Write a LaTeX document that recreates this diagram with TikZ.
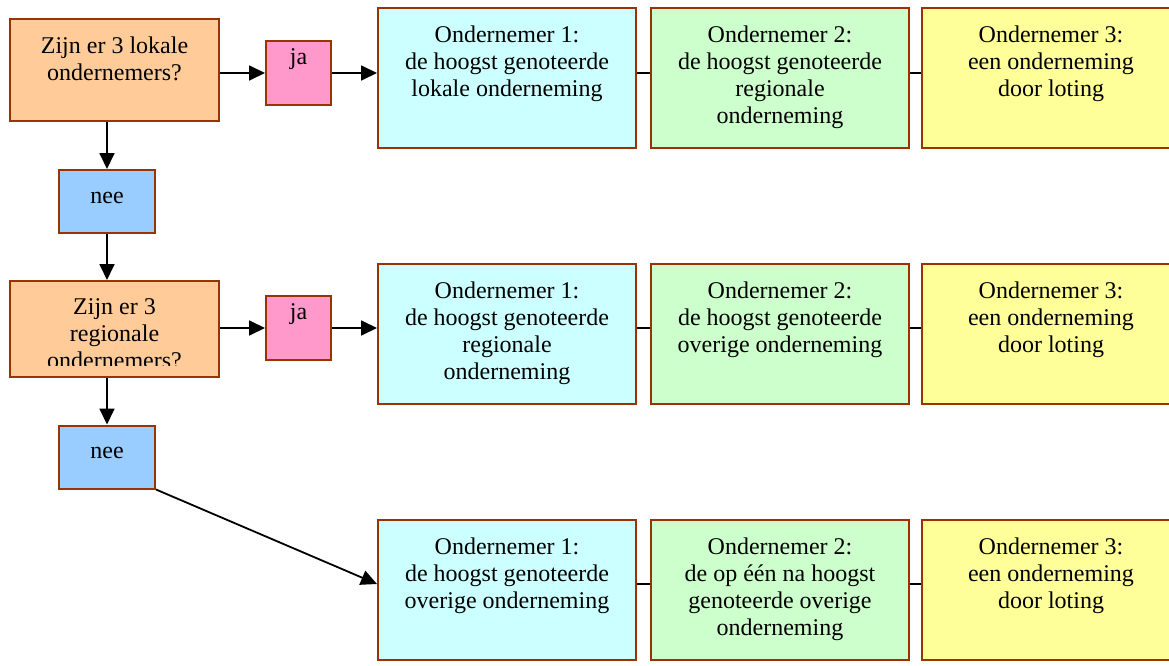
\documentclass[tikz,border=0pt]{standalone}
\usepackage{fontspec}
\setmainfont{Liberation Serif}
\usetikzlibrary{arrows.meta}
\definecolor{askfill}{HTML}{FFCC99}
\definecolor{jafill}{HTML}{FF99CC}
\definecolor{neefill}{HTML}{99CCFF}
\definecolor{firstfill}{HTML}{CCFFFF}
\definecolor{secondfill}{HTML}{CCFFCC}
\definecolor{thirdfill}{HTML}{FFFF99}
\definecolor{edge}{HTML}{993300}
\newcommand{\boxlines}[4]{\parbox[c][#2][t]{#1}{\centering\rule{0pt}{#3}#4}}
\newcommand{\pick}[1]{\boxlines{129pt}{70pt}{17pt}{#1}}
\tikzset{
	box/.style={draw=edge, line width=1pt, inner sep=0pt, font=\fontsize{12}{13.5}\selectfont},
	ask/.style={box, fill=askfill},
	yes/.style={box, fill=jafill},
	no/.style={box, fill=neefill},
	first/.style={box, fill=firstfill},
	second/.style={box, fill=secondfill},
	third/.style={box, fill=thirdfill},
	arrow/.style={line width=0.9pt, -{Triangle[length=8pt,width=7.5pt]}},
	link/.style={line width=0.9pt}
}
\begin{document}
\begin{tikzpicture}[x=0.5pt, y=-0.5pt]
				\useasboundingbox (0,0) rectangle (1169,665);
				\clip (0,0) rectangle (1169,665);
				\node[ask] (q1) at (114.5,70) {\boxlines{104.5pt}{51pt}{17pt}{Zijn er 3 lokale\\ondernemers?}};
				\node[yes] (ja1) at (298.5,73) {\boxlines{32.5pt}{32pt}{11.5pt}{ja}};
				\node[no] (nee1) at (107,201.5) {\boxlines{48pt}{31.5pt}{16.5pt}{nee}};
				\node[first] (first1) at (507,78) {\pick{Ondernemer 1:\\de hoogst genoteerde\\lokale onderneming}};
				\node[second] (second1) at (780,78) {\pick{Ondernemer 2:\\de hoogst genoteerde\\regionale\\onderneming}};
				\node[third] (third1) at (1051,78) {\pick{Ondernemer 3:\\een onderneming\\door loting}};
				\node[ask] (q2) at (114.5,329) {\boxlines{104.5pt}{48pt}{16pt}{}};
				\begin{scope}
					\clip ([yshift=6.5pt]q2.south west) rectangle (q2.north east);
					\node[inner sep=0pt, font=\fontsize{12}{13.5}\selectfont] (q2text) at (q2) {\boxlines{104.5pt}{48pt}{16.5pt}{Zijn er 3\\regionale\\ondernemers?}};
				\end{scope}
				\node[yes] (ja2) at (298.5,328) {\boxlines{32.5pt}{32pt}{11.5pt}{ja}};
				\node[no] (nee2) at (107,457) {\boxlines{48pt}{31.5pt}{16.5pt}{nee}};
				\node[first] (first2) at (507,334) {\pick{Ondernemer 1:\\de hoogst genoteerde\\regionale\\onderneming}};
				\node[second] (second2) at (780,334) {\pick{Ondernemer 2:\\de hoogst genoteerde\\overige onderneming}};
				\node[third] (third2) at (1051,334) {\pick{Ondernemer 3:\\een onderneming\\door loting}};
				\node[first] (first3) at (507,590) {\pick{Ondernemer 1:\\de hoogst genoteerde\\overige onderneming}};
				\node[second] (second3) at (780,590) {\pick{Ondernemer 2:\\de op één na hoogst\\genoteerde overige\\onderneming}};
				\node[third] (third3) at (1051,590) {\pick{Ondernemer 3:\\een onderneming\\door loting}};
				\draw[arrow] (q1.east |- ja1) -- (ja1.west);
				\draw[arrow] (ja1.east) -- (ja1 -| first1.west);
				\draw[link] (first1.east |- ja1) -- (second1.west |- ja1);
				\draw[link] (second1.east |- ja1) -- (third1.west |- ja1);
				\draw[arrow] (q1.south -| nee1) -- (nee1.north);
				\draw[arrow] (nee1.south) -- (q2.north -| nee1);
				\draw[arrow] (q2.east |- ja2) -- (ja2.west);
				\draw[arrow] (ja2.east) -- (ja2 -| first2.west);
				\draw[link] (first2.east |- ja2) -- (second2.west |- ja2);
				\draw[link] (second2.east |- ja2) -- (third2.west |- ja2);
				\draw[arrow] (q2.south -| nee2) -- (nee2.north);
				\draw[arrow] (nee2.south east) -- ([yshift=3pt]first3.west);
				\draw[link] ([yshift=3pt]first3.east) -- ([yshift=3pt]second3.west);
				\draw[link] ([yshift=3pt]second3.east) -- ([yshift=3pt]third3.west);
\end{tikzpicture}
\end{document}
